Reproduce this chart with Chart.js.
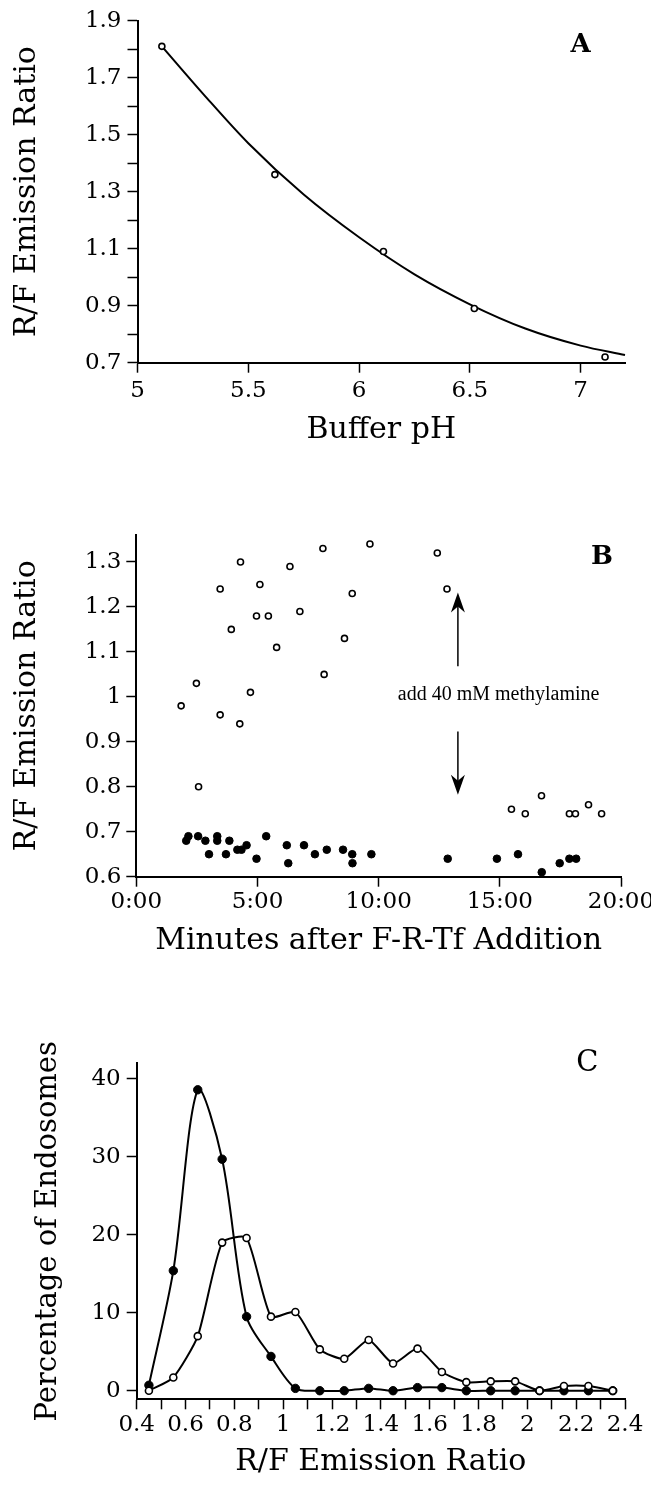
<!DOCTYPE html>
<html>
<head>
<meta charset="utf-8">
<title>R/F emission ratio</title>
<script src="https://cdn.jsdelivr.net/npm/chart.js@4.4.0/dist/chart.umd.min.js"></script>
<style>
  body { margin: 0; background: #fff; }
  #wrap { position: relative; width: 651px; height: 1485px; }
  canvas { position: absolute; left: 0; }
</style>
</head>
<body>
<div id="wrap">
  <canvas id="chartA" width="651" height="460" style="top:0px"></canvas>
  <canvas id="chartB" width="651" height="480" style="top:480px"></canvas>
  <canvas id="chartC" width="651" height="525" style="top:960px"></canvas>
</div>
<script>
'use strict';

// ---- Panel A : buffer calibration ----
var bufferPh = [5.11, 5.62, 6.11, 6.52, 7.11];
var bufferRatio = [1.81, 1.36, 1.09, 0.89, 0.72];
// fitted curve
var fitPh = [5.11, 5.3, 5.5, 5.75, 6.0, 6.25, 6.5, 6.75, 7.0, 7.2];
var fitRatio = [1.81, 1.64, 1.47, 1.29, 1.14, 1.01, 0.905, 0.82, 0.76, 0.727];
var phTicks = [5, 5.5, 6, 6.5, 7];
var phLabels = ['5', '5.5', '6', '6.5', '7'];
var ratioTicksA = [0.7, 0.8, 0.9, 1.0, 1.1, 1.2, 1.3, 1.4, 1.5, 1.6, 1.7, 1.8, 1.9];
var ratioLabelsA = ['0.7', '', '0.9', '', '1.1', '', '1.3', '', '1.5', '', '1.7', '', '1.9'];

// ---- Panel B : ratio over time (minutes) ----
var openTime = [1.85, 2.48, 2.57, 3.46, 3.46, 3.92, 4.30, 4.27, 4.71, 4.96, 5.10, 5.45, 5.79, 6.34, 6.75,
  7.70, 7.75, 8.59, 8.91, 9.64, 12.42, 12.82, 15.48, 16.05, 16.72, 17.87, 18.12, 18.66, 19.20];
var openRatio = [0.98, 1.03, 0.80, 1.24, 0.96, 1.15, 1.30, 0.94, 1.01, 1.18, 1.25, 1.18, 1.11, 1.29, 1.19,
  1.33, 1.05, 1.13, 1.23, 1.34, 1.32, 1.24, 0.75, 0.74, 0.78, 0.74, 0.74, 0.76, 0.74];
var filledTime = [2.06, 2.15, 2.55, 2.85, 3.00, 3.34, 3.34, 3.70, 3.84, 4.17, 4.34, 4.55, 4.96, 5.36, 6.21,
  6.27, 6.92, 7.37, 7.86, 8.53, 8.91, 8.92, 9.70, 12.85, 14.88, 15.75, 16.73, 17.47, 17.87, 18.15];
var filledRatio = [0.68, 0.69, 0.69, 0.68, 0.65, 0.69, 0.68, 0.65, 0.68, 0.66, 0.66, 0.67, 0.64, 0.69, 0.67,
  0.63, 0.67, 0.65, 0.66, 0.66, 0.65, 0.63, 0.65, 0.64, 0.64, 0.65, 0.61, 0.63, 0.64, 0.64];
var timeTicks = [0, 5, 10, 15, 20];
var timeLabels = ['0:00', '5:00', '10:00', '15:00', '20:00'];
var ratioTicksB = [0.6, 0.7, 0.8, 0.9, 1.0, 1.1, 1.2, 1.3];
var ratioLabelsB = ['0.6', '0.7', '0.8', '0.9', '1', '1.1', '1.2', '1.3'];

// ---- Panel C : histogram of endosome ratios ----
var binCenters = [0.45, 0.55, 0.65, 0.75, 0.85, 0.95, 1.05, 1.15, 1.25, 1.35,
  1.45, 1.55, 1.65, 1.75, 1.85, 1.95, 2.05, 2.15, 2.25, 2.35];
var filledPct = [0.7, 15.4, 38.6, 29.7, 9.5, 4.4, 0.3, 0, 0, 0.3,
  0, 0.4, 0.4, 0, 0, 0, 0, 0, 0, 0];
var openPct = [0, 1.7, 7.0, 19.0, 19.6, 9.5, 10.1, 5.3, 4.1, 6.5,
  3.5, 5.4, 2.4, 1.1, 1.2, 1.2, 0, 0.6, 0.6, 0];
var ratioTicksC = [0.4, 0.5, 0.6, 0.7, 0.8, 0.9, 1.0, 1.1, 1.2, 1.3, 1.4,
  1.5, 1.6, 1.7, 1.8, 1.9, 2.0, 2.1, 2.2, 2.3, 2.4];
var ratioLabelsC = ['0.4', '', '0.6', '', '0.8', '', '1', '', '1.2', '', '1.4',
  '', '1.6', '', '1.8', '', '2', '', '2.2', '', '2.4'];
var pctTicks = [0, 10, 20, 30, 40];
var pctLabels = ['0', '10', '20', '30', '40'];

// annotation of panel B (data units)
var arrowTime = 13.27;
var upArrow = [1.068, 1.232];
var downArrow = [0.923, 0.782];
var noteText = 'add 40 mM methylamine';
var notePos = [14.95, 1.005];

Chart.defaults.font.family = "'DejaVu Serif', serif";
Chart.defaults.color = '#000';

function zip(xs, ys) {
  return xs.map(function(x, i) { return { x: x, y: ys[i] }; });
}

// axis with fixed ticks and fixed size so the plot box lands where the figure has it
function makeAxis(o) {
  return {
    type: 'linear',
    position: o.position,
    min: o.min,
    max: o.max,
    border: { display: true, color: '#000', width: 2 },
    grid: { drawOnChartArea: false, drawTicks: true, tickLength: 10, tickColor: '#000', tickWidth: 1.5 },
    ticks: {
      autoSkip: false, maxRotation: 0, minRotation: 0, color: '#000',
      padding: o.tickPad, font: { size: 23 },
      callback: function(v, i) { return o.labels[i]; }
    },
    title: { display: true, text: o.title, color: '#000', font: { size: o.titleSize || 30 }, padding: o.titlePad },
    afterBuildTicks: function(s) { s.ticks = o.ticks.map(function(v) { return { value: v }; }); },
    afterFit: function(s) {
      if (o.position === 'left') { s.width = o.size; s.paddingTop = 0; s.paddingBottom = 0; }
      else { s.height = o.size; s.paddingLeft = 0; s.paddingRight = 0; }
    }
  };
}

// panel letter at a data position
var panelLabel = {
  id: 'panelLabel',
  afterDraw: function(chart, args, opts) {
    var ctx = chart.ctx;
    ctx.save();
    ctx.font = opts.font;
    ctx.fillStyle = '#000';
    ctx.textAlign = 'center';
    ctx.textBaseline = 'middle';
    ctx.fillText(opts.text, chart.scales.x.getPixelForValue(opts.at[0]), chart.scales.y.getPixelForValue(opts.at[1]));
    ctx.restore();
  }
};

function drawArrow(ctx, x, y0, y1) {
  var dir = y1 > y0 ? 1 : -1;
  ctx.beginPath();
  ctx.moveTo(x, y0);
  ctx.lineTo(x, y1 - dir * 12);
  ctx.stroke();
  ctx.beginPath();
  ctx.moveTo(x, y1);
  ctx.lineTo(x - 7, y1 - dir * 20);
  ctx.lineTo(x, y1 - dir * 14);
  ctx.lineTo(x + 7, y1 - dir * 20);
  ctx.closePath();
  ctx.fill();
}

var methylNote = {
  id: 'methylNote',
  afterDatasetsDraw: function(chart) {
    var ctx = chart.ctx, xs = chart.scales.x, ys = chart.scales.y;
    var ax = xs.getPixelForValue(arrowTime);
    ctx.save();
    ctx.strokeStyle = '#000';
    ctx.fillStyle = '#000';
    ctx.lineWidth = 1.5;
    drawArrow(ctx, ax, ys.getPixelForValue(upArrow[0]), ys.getPixelForValue(upArrow[1]));
    drawArrow(ctx, ax, ys.getPixelForValue(downArrow[0]), ys.getPixelForValue(downArrow[1]));
    ctx.font = "20px 'Liberation Serif', serif";
    ctx.textAlign = 'center';
    ctx.textBaseline = 'middle';
    ctx.fillText(noteText, xs.getPixelForValue(notePos[0]), ys.getPixelForValue(notePos[1]));
    ctx.restore();
  }
};

var common = {
  responsive: false,
  animation: false,
  devicePixelRatio: 1,
  events: []
};

// Panel A
new Chart(document.getElementById('chartA'), {
  type: 'scatter',
  data: {
    datasets: [{
      data: zip(bufferPh, bufferRatio),
      backgroundColor: '#fff', borderColor: '#000', borderWidth: 1.6,
      pointRadius: 3, clip: false
    }, {
      data: zip(fitPh, fitRatio),
      showLine: true, borderColor: '#000', borderWidth: 2, pointRadius: 0,
      cubicInterpolationMode: 'monotone', clip: false
    }]
  },
  options: Object.assign({}, common, {
    layout: { padding: { top: 20.7, right: 26, left: 0, bottom: 0 } },
    plugins: {
      legend: { display: false }, tooltip: { enabled: false },
      panelLabel: { text: 'A', at: [7.0, 1.815], font: "bold 26px 'DejaVu Serif', serif" }
    },
    scales: {
      x: makeAxis({ position: 'bottom', min: 5, max: 7.2, ticks: phTicks, labels: phLabels,
        title: 'Buffer pH', tickPad: 5, titlePad: { top: 0, bottom: 12 }, size: 97.3 }),
      y: makeAxis({ position: 'left', min: 0.7, max: 1.9, ticks: ratioTicksA, labels: ratioLabelsA,
        title: 'R/F Emission Ratio', tickPad: 6, titlePad: { top: 9, bottom: 0 }, size: 137.5 })
    }
  }),
  plugins: [panelLabel]
});

// Panel B
new Chart(document.getElementById('chartB'), {
  type: 'scatter',
  data: {
    datasets: [{
      data: zip(openTime, openRatio),
      backgroundColor: '#fff', borderColor: '#000', borderWidth: 1.6,
      pointRadius: 3, clip: false
    }, {
      data: zip(filledTime, filledRatio),
      backgroundColor: '#000', borderColor: '#000', borderWidth: 1,
      pointRadius: 3.8, clip: false
    }]
  },
  options: Object.assign({}, common, {
    layout: { padding: { top: 55, right: 30, left: 0, bottom: 0 } },
    plugins: {
      legend: { display: false }, tooltip: { enabled: false },
      panelLabel: { text: 'B', at: [19.22, 1.31], font: "bold 26px 'DejaVu Serif', serif" }
    },
    scales: {
      x: makeAxis({ position: 'bottom', min: 0, max: 20, ticks: timeTicks, labels: timeLabels,
        title: 'Minutes after F-R-Tf Addition', tickPad: 2, titlePad: { top: 0, bottom: 1 }, size: 83.3 }),
      y: makeAxis({ position: 'left', min: 0.6, max: 1.36, ticks: ratioTicksB, labels: ratioLabelsB,
        title: 'R/F Emission Ratio', tickPad: 5, titlePad: { top: 9, bottom: 0 }, size: 136.3 })
    }
  }),
  plugins: [panelLabel, methylNote]
});

// Panel C
new Chart(document.getElementById('chartC'), {
  type: 'line',
  data: {
    datasets: [{
      data: zip(binCenters, openPct),
      backgroundColor: '#fff', borderColor: '#000', borderWidth: 2,
      pointRadius: 3.5, pointBorderWidth: 1.6, tension: 0.2, clip: false
    }, {
      data: zip(binCenters, filledPct),
      backgroundColor: '#000', borderColor: '#000', borderWidth: 2,
      pointRadius: 4.2, pointBorderWidth: 1, tension: 0.3, clip: false
    }]
  },
  options: Object.assign({}, common, {
    layout: { padding: { top: 103.3, right: 26, left: 0, bottom: 0 } },
    plugins: {
      legend: { display: false }, tooltip: { enabled: false },
      panelLabel: { text: 'C', at: [2.246, 42], font: "29px 'DejaVu Serif', serif" }
    },
    scales: {
      x: makeAxis({ position: 'bottom', min: 0.4, max: 2.4, ticks: ratioTicksC, labels: ratioLabelsC,
        title: 'R/F Emission Ratio', tickPad: 2, titlePad: { top: 0, bottom: 5 }, size: 85.7 }),
      y: makeAxis({ position: 'left', min: -1.1, max: 42, ticks: pctTicks, labels: pctLabels,
        title: 'Percentage of Endosomes', titleSize: 29, tickPad: 6, titlePad: { top: 30.6, bottom: 0 }, size: 136.7 })
    }
  }),
  plugins: [panelLabel]
});
</script>
</body>
</html>
